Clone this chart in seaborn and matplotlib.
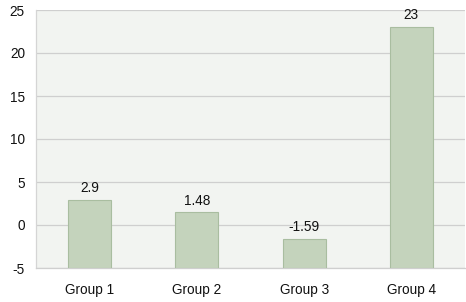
import matplotlib
matplotlib.use("Agg")
import matplotlib.pyplot as plt
import seaborn as sns
import numpy as np
import pandas as pd

categories = ["Group 1", "Group 2", "Group 3", "Group 4"]
values = [2.9, 1.48, -1.59, 23]
value_labels = ["2.9", "1.48", "-1.59", "23"]
y_ticks = [-5, 0, 5, 10, 15, 20, 25]

ymin, ymax = -5, 25

sns.set_theme(style="white")
plt.rcParams['font.family'] = ['Liberation Sans', 'DejaVu Sans']

fig = plt.figure(figsize=(4.66, 3.02), dpi=100)
ax = fig.add_axes([36/466, 1-268/302, 429/466, 258/302])
ax.set_facecolor("#F2F4F1")

df = pd.DataFrame({"cat": categories, "h": np.array(values) - ymin})
sns.barplot(data=df, x="cat", y="h", ax=ax, color="#C4D3BC", saturation=1,
            width=0.4, edgecolor="#A9BDA0", linewidth=0.8, bottom=ymin, zorder=3)

ax.set_ylim(ymin, ymax)
ax.set_xlim(-0.5, len(categories) - 0.5)
ax.set_yticks(y_ticks)
ax.set_yticklabels([str(t) for t in y_ticks])
ax.yaxis.grid(True, color="#CFCFCF", linewidth=0.9, zorder=0)
ax.set_axisbelow(True)

for i, (v, lab) in enumerate(zip(values, value_labels)):
    ax.text(i, v + 0.55, lab, ha="center", va="bottom", fontsize=9.8, color="#111111", zorder=4)

ax.set_xlabel("")
ax.set_ylabel("")
ax.set_xticks(range(len(categories)))
ax.set_xticklabels(categories)
ax.tick_params(axis="x", length=0, pad=11, labelsize=9.8, colors="#111111")
ax.tick_params(axis="y", length=0, pad=8, labelsize=9.8, colors="#111111")

# minor ticks at category boundaries
ax.set_xticks(np.arange(-0.5, len(categories)), minor=True)
ax.tick_params(axis="x", which="minor", length=4, direction="out", color="#CFCFCF", width=0.9)

for s in ["top", "right"]:
    ax.spines[s].set_visible(False)
ax.spines["left"].set_color("#D5D5D5")
ax.spines["bottom"].set_color("#CFCFCF")
ax.spines["left"].set_linewidth(0.9)
ax.spines["bottom"].set_linewidth(0.9)

fig.savefig("out.png", dpi=100, facecolor="white")
